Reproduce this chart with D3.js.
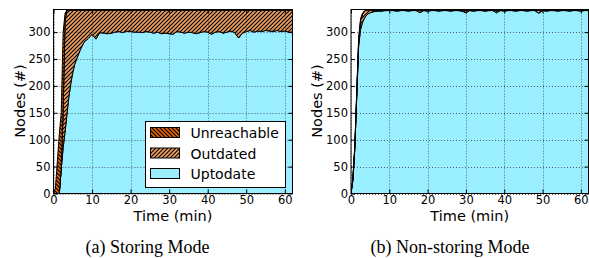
<!DOCTYPE html>
<html>
<head>
<meta charset="utf-8">
<script src="https://cdn.jsdelivr.net/npm/d3@7"></script>
<style>
  body { margin: 0; background: #fff; }
  text { font-family: "DejaVu Sans", sans-serif; }
  .caption { font-family: "Liberation Serif", "Times New Roman", serif; }
</style>
</head>
<body>
<script>
// time samples (min), shared by both panels
var times = [0, 0.5, 1, 1.5, 2, 2.5, 3, 3.5, 4, 4.5, 5, 5.5, 6,
    7, 8, 9, 10, 11, 12, 13, 14, 15, 16, 17, 18, 19, 20, 21, 22, 23, 24, 25, 26, 27, 28, 29, 30,
    31, 32, 33, 34, 35, 36, 37, 38, 39, 40, 41, 42, 43, 44, 45, 46, 47, 48, 49, 50,
    51, 52, 53, 54, 55, 56, 57, 58, 59, 60, 61, 62];

// (a) Storing mode
var uptodateA = [0, 0, 0, 0, 45, 85, 115, 148, 180, 205, 225, 240, 250,
    268, 282, 288, 296, 287, 299, 298, 297, 298, 300, 301, 299, 302, 301, 300, 300, 299, 301, 300, 298, 300, 297, 298, 297,
    296, 301, 300, 298, 300, 299, 297, 299, 301, 300, 296, 300, 301, 298, 300, 302, 299, 289, 298, 301,
    303, 300, 302, 301, 303, 302, 301, 303, 301, 302, 300, 300];
var outdatedA = [0, 0, 0, 0, 0, 65, 205, 193, 161, 136, 116, 101, 91,
    73, 59, 53, 45, 54, 42, 43, 44, 43, 41, 40, 42, 39, 40, 41, 41, 42, 40, 41, 43, 41, 44, 43, 44,
    45, 40, 41, 43, 41, 42, 44, 42, 40, 41, 45, 41, 40, 43, 41, 39, 42, 52, 43, 40,
    38, 41, 39, 40, 38, 39, 40, 38, 40, 39, 41, 41];
var unreachableA = [0, 10, 60, 110, 105, 150, 15, 0, 0, 0, 0, 0, 0,
    0, 0, 0, 0, 0, 0, 0, 0, 0, 0, 0, 0, 0, 0, 0, 0, 0, 0, 0, 0, 0, 0, 0, 0,
    0, 0, 0, 0, 0, 0, 0, 0, 0, 0, 0, 0, 0, 0, 0, 0, 0, 0, 0, 0,
    0, 0, 0, 0, 0, 0, 0, 0, 0, 0, 0, 0];

// (b) Non-storing mode
var uptodateB = [0, 25, 85, 180, 275, 305, 318, 326, 331, 334, 336, 337, 338,
    339, 339, 340, 340, 340, 339, 340, 340, 339, 340, 340, 336, 340, 339, 340, 340, 339, 340, 340, 339, 340, 340, 339, 336,
    340, 339, 340, 340, 339, 340, 340, 336, 340, 339, 340, 340, 339, 340, 340, 339, 340, 340, 335, 340,
    339, 340, 340, 339, 340, 340, 339, 340, 340, 339, 340, 340];
var outdatedB = [0, 2, 1, 5, 7, 16, 15, 13, 10, 7, 5, 4, 3,
    2, 2, 1, 1, 1, 2, 1, 1, 2, 1, 1, 5, 1, 2, 1, 1, 2, 1, 1, 2, 1, 1, 2, 5,
    1, 2, 1, 1, 2, 1, 1, 5, 1, 2, 1, 1, 2, 1, 1, 2, 1, 1, 6, 1,
    2, 1, 1, 2, 1, 1, 2, 1, 1, 2, 1, 1];
var unreachableB = [0, 3, 4, 5, 8, 4, 2, 0, 0, 0, 0, 0, 0,
    0, 0, 0, 0, 0, 0, 0, 0, 0, 0, 0, 0, 0, 0, 0, 0, 0, 0, 0, 0, 0, 0, 0, 0,
    0, 0, 0, 0, 0, 0, 0, 0, 0, 0, 0, 0, 0, 0, 0, 0, 0, 0, 0, 0,
    0, 0, 0, 0, 0, 0, 0, 0, 0, 0, 0, 0];

var seriesNames = ["Uptodate", "Outdated", "Unreachable"];
var xTicks = [0, 10, 20, 30, 40, 50, 60];
var yTicks = [0, 50, 100, 150, 200, 250, 300];

var W = 589, H = 258;

var svg = d3.select("body").append("svg")
    .attr("width", W)
    .attr("height", H);

var defs = svg.append("defs");

// hatch patterns
function hatch(id, bg, dir, sw) {
    var p = defs.append("pattern")
        .attr("id", id)
        .attr("patternUnits", "userSpaceOnUse")
        .attr("width", 4)
        .attr("height", 4);
    p.append("rect").attr("width", 4).attr("height", 4).attr("fill", bg);
    var d = dir == "/" ? "M-1,1 L1,-1 M0,4 L4,0 M3,5 L5,3"
                       : "M-1,3 L1,5 M0,0 L4,4 M3,-1 L5,1";
    p.append("path").attr("d", d).attr("stroke", "#000").attr("stroke-width", sw);
}
hatch("hOut", "#f0a060", "/", 1.1);
hatch("hUnr", "#e8650a", "\\", 1.2);

var fills = {
    "Uptodate": "#99eeff",
    "Outdated": "url(#hOut)",
    "Unreachable": "url(#hUnr)"
};

function panel(opts) {
    var x = d3.scaleLinear().domain([0, 62]).range([opts.x0, opts.x1]);
    var y = d3.scaleLinear().domain([0, 342]).range([193.5, 9.5]);

    var g = svg.append("g");

    var clipId = "clip" + opts.id;
    defs.append("clipPath").attr("id", clipId)
        .append("rect")
        .attr("x", opts.x0).attr("y", 9.5)
        .attr("width", opts.x1 - opts.x0).attr("height", 184);

    var rows = times.map(function (t, i) {
        return { t: t, Uptodate: opts.up[i], Outdated: opts.out[i], Unreachable: opts.unr[i] };
    });

    var stack = d3.stack().keys(seriesNames);
    var layers = stack(rows);

    var area = d3.area()
        .x(function (d) { return x(d.data.t); })
        .y0(function (d) { return y(d[0]); })
        .y1(function (d) { return y(d[1]); });

    g.append("g").attr("clip-path", "url(#" + clipId + ")")
        .selectAll("path.layer")
        .data(layers)
        .enter().append("path")
        .attr("class", "layer")
        .attr("d", area)
        .attr("fill", function (d) { return fills[d.key]; })
        .attr("stroke", "#000")
        .attr("stroke-width", 1)
        .attr("stroke-linejoin", "round");

    // dotted grid
    var grid = g.append("g")
        .attr("stroke", "#222")
        .attr("stroke-width", 0.7)
        .attr("stroke-dasharray", "1,2");
    xTicks.forEach(function (t) {
        grid.append("line")
            .attr("x1", Math.round(x(t)) + 0.5).attr("x2", Math.round(x(t)) + 0.5)
            .attr("y1", 9.5).attr("y2", 193.5);
    });
    yTicks.forEach(function (t) {
        grid.append("line")
            .attr("x1", opts.x0).attr("x2", opts.x1)
            .attr("y1", Math.round(y(t)) + 0.5).attr("y2", Math.round(y(t)) + 0.5);
    });

    // axes: inward ticks on all sides
    g.append("g")
        .attr("transform", "translate(0,193.5)")
        .call(d3.axisBottom(x).tickValues(xTicks).tickSizeInner(-4).tickSizeOuter(0).tickPadding(2))
        .call(styleAxis);
    g.append("g")
        .attr("transform", "translate(0,9.5)")
        .call(d3.axisTop(x).tickValues(xTicks).tickSizeInner(-4).tickSizeOuter(0).tickFormat(""))
        .call(styleAxis);
    g.append("g")
        .attr("transform", "translate(" + opts.x0 + ",0)")
        .call(d3.axisLeft(y).tickValues(yTicks).tickSizeInner(-4).tickSizeOuter(0).tickPadding(3))
        .call(styleAxis);
    g.append("g")
        .attr("transform", "translate(" + opts.x1 + ",0)")
        .call(d3.axisRight(y).tickValues(yTicks).tickSizeInner(-4).tickSizeOuter(0).tickFormat(""))
        .call(styleAxis);

    // frame
    g.append("rect")
        .attr("x", opts.x0).attr("y", 9.5)
        .attr("width", opts.x1 - opts.x0).attr("height", 184)
        .attr("fill", "none")
        .attr("stroke", "#000")
        .attr("stroke-width", 1);

    // labels
    g.append("text")
        .attr("transform", "translate(" + opts.ylabX + ",101) rotate(-90)")
        .attr("text-anchor", "middle")
        .attr("font-size", 14.5)
        .text("Nodes (#)");
    g.append("text")
        .attr("x", (opts.x0 + opts.x1) / 2)
        .attr("y", 221)
        .attr("text-anchor", "middle")
        .attr("font-size", 14.5)
        .text("Time (min)");
    g.append("text")
        .attr("class", "caption")
        .attr("x", opts.capX)
        .attr("y", 253)
        .attr("text-anchor", "middle")
        .attr("font-size", 18)
        .text(opts.caption);

    return g;
}

function styleAxis(sel) {
    sel.select(".domain").remove();
    sel.selectAll(".tick line").attr("stroke", "#000").attr("stroke-width", 1);
    sel.selectAll(".tick text")
        .attr("font-size", 11.5)
        .attr("fill", "#000");
}

var gA = panel({
    id: "A", x0: 53.5, x1: 292.5, up: uptodateA, out: outdatedA, unr: unreachableA,
    ylabX: 24.5, capX: 147.5, caption: "(a) Storing Mode"
});
panel({
    id: "B", x0: 351, x1: 588.5, up: uptodateB, out: outdatedB, unr: unreachableB,
    ylabX: 321.5, capX: 450, caption: "(b) Non-storing Mode"
});

// legend (panel a)
var legend = gA.append("g");
legend.append("rect")
    .attr("x", 145.5).attr("y", 121.5)
    .attr("width", 140).attr("height", 66)
    .attr("fill", "#fff")
    .attr("stroke", "#000")
    .attr("stroke-width", 1);
var legendOrder = ["Unreachable", "Outdated", "Uptodate"];
legendOrder.forEach(function (k, i) {
    var yy = 127.5 + i * 20.5;
    legend.append("rect")
        .attr("x", 150.5).attr("y", yy)
        .attr("width", 29).attr("height", 10)
        .attr("fill", fills[k])
        .attr("stroke", "#000")
        .attr("stroke-width", 1);
    legend.append("text")
        .attr("x", 190.5).attr("y", yy + 10.5)
        .attr("font-size", 14)
        .text(k);
});
</script>
</body>
</html>
